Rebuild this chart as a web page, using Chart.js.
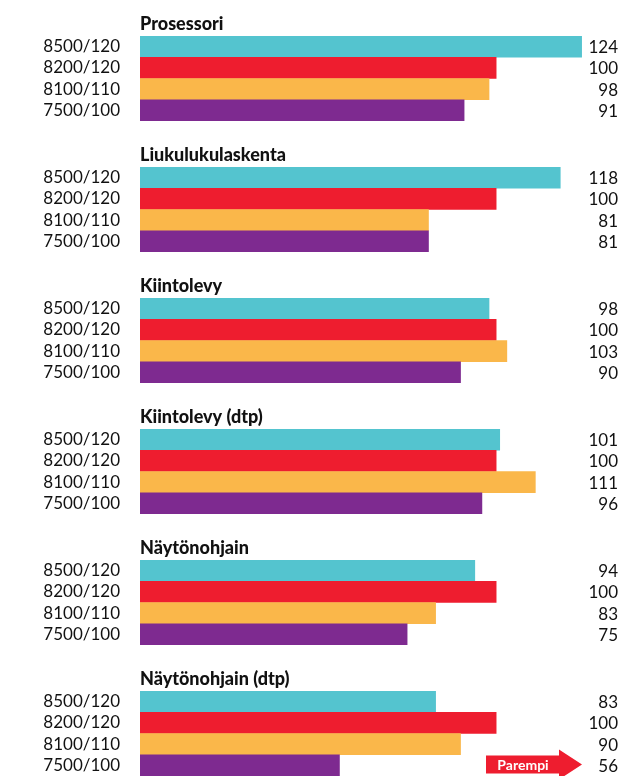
<!DOCTYPE html>
<html lang="fi">
<head>
<meta charset="UTF-8" />
<title>Suorituskyky</title>
<script src="https://cdn.jsdelivr.net/npm/chart.js"></script>
<style>
  html, body { margin: 0; padding: 0; background: #fff; overflow: hidden; width: 627px; height: 776px; }
  #wrap { position: relative; width: 627px; height: 776px; }
  #wrap canvas { position: absolute; left: 0; }
</style>
</head>
<body>
<div id="wrap"></div>

<script>
  // testiryhmät ja koneet
  const groups = ['Prosessori', 'Liukulukulaskenta', 'Kiintolevy', 'Kiintolevy (dtp)', 'Näytönohjain', 'Näytönohjain (dtp)'];
  const models = ['8500/120', '8200/120', '8100/110', '7500/100'];

  // tulokset, 8200/120 = 100
  const prosessori = [124, 100, 98, 91];
  const liukuluku = [118, 100, 81, 81];
  const kiintolevy = [98, 100, 103, 90];
  const kiintolevyDtp = [101, 100, 111, 96];
  const naytonohjain = [94, 100, 83, 75];
  const naytonohjainDtp = [83, 100, 90, 56];
  const results = [prosessori, liukuluku, kiintolevy, kiintolevyDtp, naytonohjain, naytonohjainDtp];

  const colors = ['#54c4cf', '#ee1d2f', '#fab74a', '#7e2a90'];
  const fontFamily = 'Lato, "Open Sans", sans-serif';

  // otsikko, arvot oikeaan reunaan ja "Parempi"-nuoli
  const groupText = {
    id: 'groupText',
    afterDatasetsDraw(chart, args, opts) {
      const ctx = chart.ctx;
      const area = chart.chartArea;
      ctx.save();
      ctx.fillStyle = '#111';
      ctx.font = '900 18px ' + fontFamily;
      ctx.textAlign = 'left';
      ctx.textBaseline = 'alphabetic';
      ctx.fillText(opts.title, area.left, area.top - 6);

      const meta = chart.getDatasetMeta(0);
      const data = chart.data.datasets[0].data;
      ctx.font = '17px ' + fontFamily;
      ctx.textAlign = 'right';
      ctx.textBaseline = 'middle';
      meta.data.forEach((bar, i) => ctx.fillText(data[i], chart.width - 9, bar.y + 1));

      if (opts.arrow) {
        const y = meta.data[meta.data.length - 1].y - 1;
        ctx.fillStyle = '#ee1d2f';
        ctx.beginPath();
        ctx.moveTo(486, y - 9);
        ctx.lineTo(559, y - 9);
        ctx.lineTo(559, y - 15);
        ctx.lineTo(582, y);
        ctx.lineTo(559, y + 15);
        ctx.lineTo(559, y + 9);
        ctx.lineTo(486, y + 9);
        ctx.closePath();
        ctx.fill();
        ctx.fillStyle = '#fff';
        ctx.font = 'bold 14px ' + fontFamily;
        ctx.textAlign = 'center';
        ctx.fillText('Parempi', 523, y + 1);
      }
      ctx.restore();
    }
  };

  const wrap = document.getElementById('wrap');
  groups.forEach((title, g) => {
    const canvas = document.createElement('canvas');
    canvas.width = 627;
    canvas.height = 131;
    canvas.style.top = (g * 131) + 'px';
    wrap.appendChild(canvas);

    new Chart(canvas.getContext('2d'), {
      type: 'bar',
      data: {
        labels: models,
        datasets: [{
          data: results[g],
          backgroundColor: colors,
          borderWidth: 0,
          barPercentage: 1,
          categoryPercentage: 1
        }]
      },
      options: {
        indexAxis: 'y',
        responsive: false,
        animation: false,
        devicePixelRatio: 1,
        layout: { padding: { top: 36, bottom: 10, left: 0, right: 24 } },
        scales: {
          x: { display: false, min: 0, max: 130 },
          y: {
            grid: { display: false, drawTicks: false },
            border: { display: false },
            afterFit(scale) {
              scale.width = 140;
              scale.paddingTop = 0;
              scale.paddingBottom = 0;
            },
            ticks: {
              padding: 20,
              autoSkip: false,
              color: '#111',
              font: { family: fontFamily, size: 17 }
            }
          }
        },
        plugins: {
          legend: { display: false },
          tooltip: { enabled: false },
          groupText: { title: title, arrow: g === groups.length - 1 }
        }
      },
      plugins: [groupText]
    });
  });
</script>
</body>
</html>
